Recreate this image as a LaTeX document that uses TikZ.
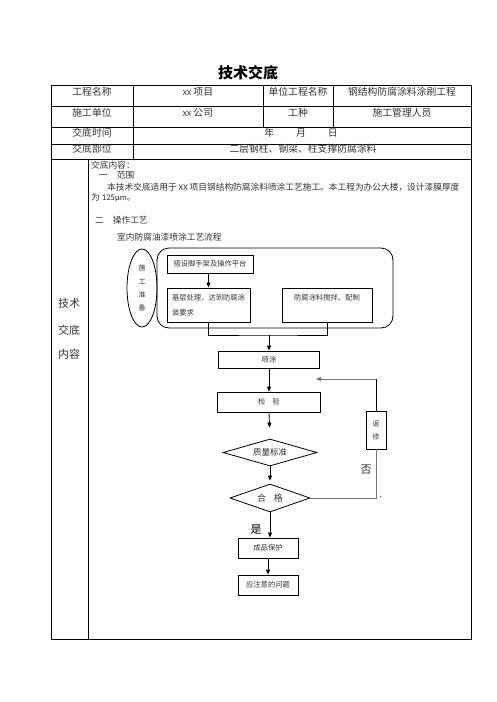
\documentclass[tikz,border=0pt]{standalone}
\usepackage{fontspec}
\setmainfont{Noto Sans CJK SC}
\newfontfamily\latf{Carlito}
\usetikzlibrary{shapes.geometric,arrows.meta}
\tikzset{
  tbl/.style={line width=0.9pt},
  ctext/.style={inner sep=0pt, text=black!80, font=\fontsize{9.8}{12}\selectfont},
  btext/.style={inner sep=0pt, anchor=west, text=black!80, font=\fontsize{8.7}{11}\selectfont},
  fbox/.style={draw, line width=0.8pt, inner sep=1pt, text=black!80, font=\fontsize{7.3}{13}\selectfont},
  arr/.style={-{Triangle[length=5pt,width=4pt]}, line width=0.8pt},
  loopl/.style={line width=0.9pt, draw=black!55},
}
\begin{document}
\begin{tikzpicture}[x=1pt,y=-1pt]
\useasboundingbox (0,0) rectangle (496,702);
% title
\node[inner sep=0pt, font=\fontsize{15}{18}\selectfont\bfseries] (title) at (248,73) {技术交底};
% table frame
\draw[tbl] (51,85) rectangle (471,639);
\foreach \yy in {106,127,144,159} \draw[tbl] (51,\yy) -- (471,\yy);
\draw[tbl] (133,85) -- (133,159);
\draw[tbl] (263,85) -- (263,127);
\draw[tbl] (333,85) -- (333,127);
\draw[tbl] (88,159) -- (88,639);
% table texts
\node[ctext] (t11) at (92,92) {工程名称};
\node[ctext] (t12) at (198,92) {{\latf\fontsize{8}{10}\selectfont XX} 项目};
\node[ctext] (t13) at (298,92) {单位工程名称};
\node[ctext] (t14) at (402,92) {钢结构防腐涂料涂刷工程};
\node[ctext] (t21) at (92,113) {施工单位};
\node[ctext] (t22) at (198,113) {{\latf\fontsize{8}{10}\selectfont XX} 公司};
\node[ctext] (t23) at (298,113) {工种};
\node[ctext] (t24) at (402,113) {施工管理人员};
\node[ctext] (t31) at (92,133) {交底时间};
\node[ctext] (t32) at (301,133) {年\hspace{22pt}月\hspace{22pt}日};
\node[ctext] (t41) at (92,149) {交底部位};
\node[ctext] (t42) at (303,149) {二层钢柱、钢梁、柱支撑防腐涂料};
% left column
\node[inner sep=0pt, text=black!80, font=\fontsize{11}{13}\selectfont] (l1) at (69,303) {技术};
\node[inner sep=0pt, text=black!80, font=\fontsize{11}{13}\selectfont] (l2) at (69,330) {交底};
\node[inner sep=0pt, text=black!80, font=\fontsize{11}{13}\selectfont] (l3) at (69,354) {内容};
% body texts
\node[btext] (b1) at (91,165.5) {交底内容：};
\node[btext] (b2) at (99,175) {一\hspace{9pt}范围};
\node[btext] (b3) at (107,187) {本技术交底适用于 {\latf XX} 项目钢结构防腐涂料喷涂工艺施工。本工程为办公大楼，设计漆膜厚度};
\node[btext] (b4) at (91,198) {为 {\latf 125μm}。};
\node[btext] (b5) at (95,220) {二\hspace{9pt}操作工艺};
\node[btext] (b6) at (117,237) {室内防腐油漆喷涂工艺流程};
% flowchart
\node[draw, line width=0.8pt, rounded corners=12pt, minimum width=236pt, minimum height=80pt] (prep) at (275,288) {};
\node[draw, ellipse, line width=0.8pt, inner sep=0pt, minimum width=30pt, minimum height=78pt, align=center, text=black!80, font=\fontsize{7}{13.3}\selectfont] (ell) at (142,288) {施\\工\\准\\备};
\node[fbox, minimum width=86pt, minimum height=18pt] (scaf) at (210,264) {搭设脚手架及操作平台};
\node[fbox, minimum width=83pt, minimum height=34pt, align=left, font=\fontsize{7.3}{15}\selectfont] (base) at (208.5,305) {基层处理，达到防腐涂\\装要求};
\node[fbox, minimum width=90pt, minimum height=34pt, align=center, font=\fontsize{7.3}{15}\selectfont] (mix) at (327,305) {防腐涂料搅拌、配制\\\mbox{}};
\coordinate (m) at (269,335);
\node[fbox, minimum width=101pt, minimum height=17pt] (spray) at (269,359.5) {喷涂};
\node[fbox, minimum width=103pt, minimum height=20pt] (check) at (269,402) {检\hspace{7pt}验};
\node[draw, diamond, shape aspect=3.5, line width=0.8pt, inner sep=0pt, minimum width=94pt, minimum height=27pt, text=black!80, font=\fontsize{8.5}{10}\selectfont] (qual) at (270,452.5) {质量标准};
\node[draw, diamond, shape aspect=2.9, line width=0.8pt, inner sep=0pt, minimum width=80pt, minimum height=28pt, text=black!80, font=\fontsize{9}{10}\selectfont] (ok) at (270,498) {合\hspace{8pt}格};
\node[fbox, minimum width=20pt, minimum height=38pt, align=center, font=\fontsize{7}{13}\selectfont] (fix) at (376,430) {返\\修};
\coordinate (ret) at (316,379);
\node[fbox, minimum width=60pt, minimum height=20pt] (prot) at (268,548) {成品保护};
\node[fbox, minimum width=60pt, minimum height=20pt] (warn) at (268,585) {应注意的问题};
\node[inner sep=0pt, text=black!80, font=\fontsize{11}{13}\selectfont] (no) at (366,470) {否};
\node[inner sep=0pt, font=\fontsize{11}{13}\selectfont] (yes) at (256,530) {是};
\node[inner sep=0pt, font=\fontsize{8}{10}\selectfont] (dot) at (381,497) {.};
% connectors
\draw[arr] (scaf.south -| base.north) -- (base.north);
\draw[line width=0.8pt] (base.south) |- (m) -| (mix.south);
\draw[arr] (m) -- (spray.north);
\draw[arr] (spray.south) -- (check.north);
\draw[arr, shorten >=11pt] (check.south) -- (qual.north);
\draw[arr, shorten >=3pt] (qual.south) -- (ok.north);
\draw[arr] (ok.south) -- (ok.south |- prot.north);
\draw[arr] (prot.south) -- (warn.north);
\draw[loopl] (ok.east) -| (fix.south);
\draw[line width=0.9pt] (fix.north) -- (fix.north |- ret);
\draw[loopl, -{Triangle[length=5pt,width=4pt]}] (fix.north |- ret) -- (ret);
\end{tikzpicture}
\end{document}
